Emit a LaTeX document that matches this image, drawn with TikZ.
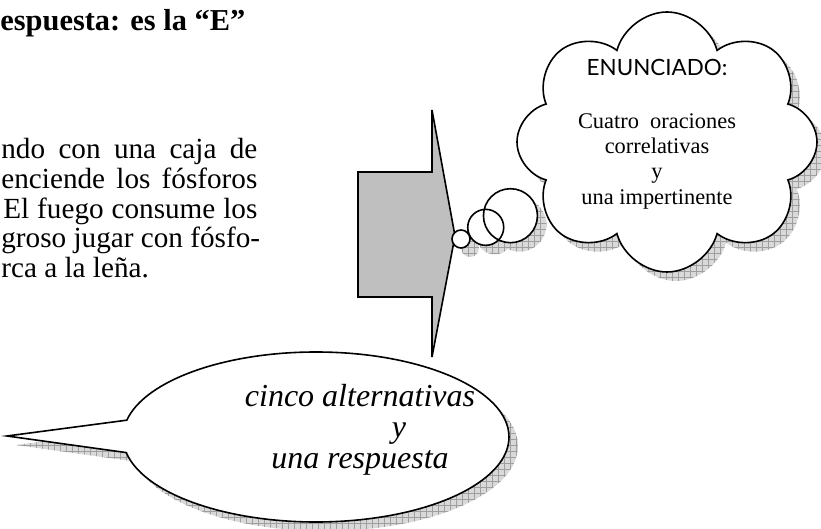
\documentclass[tikz,border=0pt]{standalone}
\usepackage{fontspec}
\setmainfont{Liberation Serif}
\newfontfamily\capsfont{Lato}
\usetikzlibrary{positioning, shapes.callouts, shadows, patterns}

\begin{document}
\begin{tikzpicture}[x=0.5pt, y=-0.5pt, node distance=0pt]

% Styles
\tikzset{
  heading/.style={
    anchor=base west, inner sep=0pt,
    font=\fontsize{15.2}{17}\selectfont\bfseries
  },
  textline/.style={
    anchor=north west, inner sep=0pt,
    text height=10.6pt, text depth=3.9pt,
    font=\fontsize{14.6}{17}\selectfont
  },
  hatched/.style={
    drop shadow={shadow xshift=4.5pt, shadow yshift=-4.5pt, opacity=1,
      fill=gray!30, draw=none,
      postaction={pattern=grid, pattern color=gray!75}}
  },
  thought/.style={
    cloud callout, draw, line width=0.8pt, fill=white, hatched,
    cloud puffs=8, cloud puff arc=150, cloud ignores aspect,
    minimum width=150pt, minimum height=130pt,
    callout pointer start size=36pt, callout pointer end size=9pt,
    callout pointer segments=3
  },
  speech/.style={
    ellipse callout, draw, line width=0.8pt, fill=white, hatched,
    minimum width=193pt, minimum height=85pt, callout pointer arc=22
  },
  arrowbox/.style={draw, line width=0.8pt, fill=gray!50, line join=miter},
  cloudtext/.style={align=center, inner sep=0pt, font=\fontsize{11.2}{12.6}\selectfont},
  answertext/.style={align=center, inner sep=0pt, font=\fontsize{16}{15.5}\selectfont\itshape}
}

\useasboundingbox (0,0) rectangle (821,529);

% Heading and cut text
\node (title) [heading] at (0,31) {espuesta: es la “E”};
\node (l1) [textline] at (1,137) {\makebox[128pt][s]{ndo con una caja de}};
\node (l2) [textline, below=0pt of l1.south west, anchor=north west] {\makebox[128pt][s]{enciende los fósforos}};
\node (l3) [textline, below=0pt of l2.south west, anchor=north west, xshift=1pt] {\makebox[127pt][s]{El fuego consume los}};
\node (l4) [textline, below=0pt of l3.south west, anchor=north west, xshift=-1pt] {groso jugar con fósfo-};
\node (l5) [textline, below=0pt of l4.south west, anchor=north west] {rca a la leña.};

% Arrow
\draw[arrowbox] (358,172) -- (432,172) -- (432,110) -- (455,236)
  -- (432,357) -- (432,297) -- (358,297) -- cycle;

% Thought cloud
\node (cloud) [thought, callout absolute pointer={(461,239)}] at (667,142) {};
\node (stmt) [cloudtext] at (657,134) {{\capsfont ENUNCIADO:}\\[14pt]Cuatro~ oraciones\\correlativas\\y\\una impertinente};

% Speech bubble
\node (bubble) [speech, callout absolute pointer={(7,436)}] at (316,437) {};
\node (answer) [answertext] at (360,430) {cinco alternativas\\\hspace*{39pt}y\\una respuesta};

\end{tikzpicture}
\end{document}
